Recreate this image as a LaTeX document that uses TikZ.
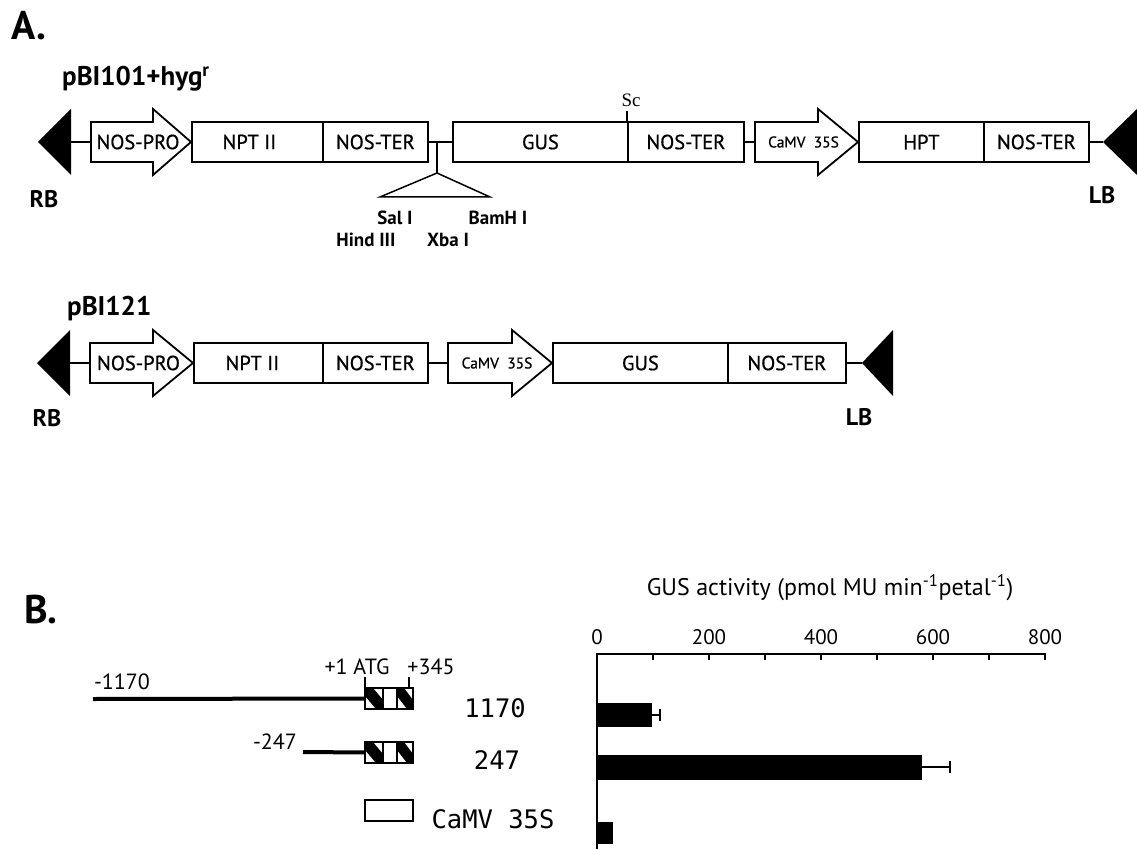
\documentclass[tikz,border=0pt]{standalone}
\usepackage{fontspec}
\setmainfont{PT Sans}
\newfontfamily\medfnt{PT Sans}[FakeBold=0.7]
\newfontfamily\monofnt{DejaVu Sans Mono}
\newfontfamily\seriffnt{Liberation Serif}
\newcommand\fs[1]{\fontsize{#1}{#1}\selectfont}
% promoter arrow: #1 name, #2 x start, #3 x head, #4 x tip, #5 centre y, #6 text, #7 font size
\newcommand\promarrow[7]{%
  \draw[shp] (#2,#5-20) -- (#3,#5-20) -- (#3,#5-33) -- (#4,#5) -- (#3,#5+33) -- (#3,#5+20) -- (#2,#5+20) -- cycle;
  \coordinate (#1w) at (#2,#5);
  \coordinate (#1e) at (#4,#5);
  \node[lbl, font=\fs{#7}\medfnt] (#1) at ({(#2+#4)/2-3},#5) {#6};}
% border triangle: #1 name, #2 tip x, #3 back x, #4 centre y
\newcommand\bordertri[4]{%
  \fill (#2,#4) -- (#3,#4-33) -- (#3,#4+33) -- cycle;
  \coordinate (#1) at (#3,#4);}
% hatched reporter cells: #1 name, #2 top y
\newcommand\hatchcells[2]{%
  \fill (365,#2) -- (373,#2) -- (383,#2+12) -- (383,#2+21) -- (376,#2+21) -- (365,#2+8) -- cycle;
  \fill (397,#2) -- (404,#2) -- (413,#2+12) -- (413,#2+21) -- (407,#2+21) -- (397,#2+8) -- cycle;
  \draw[cell] (365,#2) rectangle (413,#2+21);
  \draw[cell] (383,#2) -- (383,#2+21) (397,#2) -- (397,#2+21);
  \coordinate (#1) at (365,#2+10.5);}
\begin{document}
\begin{tikzpicture}[x=1pt,y=-1pt,line join=miter,
  gbox/.style={draw, line width=1.8pt, minimum height=40pt, inner sep=0pt, anchor=west, font=\fs{20.5}\medfnt},
  shp/.style={draw, line width=1.8pt, fill=white},
  lnk/.style={line width=1.8pt},
  thin/.style={line width=1.5pt},
  lbl/.style={inner sep=0pt, font=\fs{18}},
  site/.style={lbl, font=\fs{19}\bfseries},
  border/.style={lbl, font=\fs{24}\bfseries},
  numl/.style={lbl, font=\fs{22}},
  cell/.style={line width=2pt},
  prom/.style={line width=4pt},
  axis/.style={line width=2pt}]
\fill[white] (0,0) rectangle (1137,850);
\useasboundingbox (0,0) rectangle (1137,850);

% ---------- A ----------
\node[lbl, font=\fs{40}\bfseries] (labA) at (29,26) {A.};
\node[lbl, font=\fs{27}\bfseries, anchor=base west] (t1) at (62,86) {pBI101+hyg\textsuperscript{r}};

% row 1
\bordertri{rb1}{38}{71}{142}
\promarrow{pro1}{91}{153}{191}{142}{NOS-PRO}{20.5}
\node[gbox, minimum width=131pt] (npt1) at (191,142) {\hspace*{-16pt}NPT II};
\node[gbox, minimum width=105pt] (ter1a) at (322,142) {NOS-TER};
\node[gbox, minimum width=175pt] (gus1) at (452,142) {GUS};
\node[gbox, minimum width=116pt] (ter1b) at (627,142) {NOS-TER};
\promarrow{cam1}{755}{818}{858}{142}{CaMV\ \ 35S}{15.5}
\node[gbox, minimum width=125pt] (hpt1) at (858,142) {HPT};
\node[gbox, minimum width=105pt] (ter1c) at (983,142) {NOS-TER};
\fill (1103,142) -- (1137,109) -- (1137,175) -- cycle;
\coordinate (lb1) at (1103,142);

\draw[lnk] (rb1) -- (pro1w);
\draw[lnk] (ter1a.east) -- (gus1.west);
\draw[lnk] (ter1b.east) -- (cam1w);
\draw[lnk] (ter1c.east) -- (lb1);

% polylinker
\coordinate (mcs) at (437,142);
\coordinate (mcsapex) at (437,173);
\draw[thin] (mcs) -- (mcsapex);
\draw[thin] (mcsapex) -- (380,197) -- (490,197) -- cycle;
\node[site] (sal) at (395,218) {Sal I};
\node[site] (bam) at (498,218) {BamH I};
\node[site] (hind) at (366,240) {Hind III};
\node[site] (xba) at (448,240) {Xba I};

% Sc site
\coordinate (sctop) at (627,111);
\draw[thin] (ter1b.north west) -- (sctop);
\node[lbl, font=\fs{19}\seriffnt, anchor=south] (sc) at (631,107) {Sc};

\node[border] (rbl1) at (44,199) {RB};
\node[border] (lbl1) at (1102,195) {LB};

% row 2
\node[lbl, font=\fs{27}\bfseries, anchor=base west] (t2) at (67,315) {pBI121};
\bordertri{rb2}{37}{70}{363}
\promarrow{pro2}{90}{153}{193}{363}{NOS-PRO}{20.5}
\node[gbox, minimum width=129pt] (npt2) at (193,363) {\hspace*{-12pt}NPT II};
\node[gbox, minimum width=105pt] (ter2a) at (322,363) {NOS-TER};
\promarrow{cam2}{448}{512}{552}{363}{CaMV\ \ 35S}{15.5}
\node[gbox, minimum width=175pt] (gus2) at (552,363) {GUS};
\node[gbox, minimum width=118pt] (ter2b) at (727,363) {NOS-TER};
\fill (862,363) -- (893,330) -- (893,396) -- cycle;
\coordinate (lb2) at (862,363);
\draw[lnk] (rb2) -- (pro2w);
\draw[lnk] (ter2a.east) -- (cam2w);
\draw[lnk] (ter2b.east) -- (lb2);
\node[border] (rbl2) at (47,418) {RB};
\node[border] (lbl2) at (859,417) {LB};

% ---------- B ----------
\node[lbl, font=\fs{40}\bfseries] (labB) at (41,610) {B.};

\coordinate (p1170) at (93,699);
\hatchcells{c1170}{688}
\draw[prom] (p1170) -- (c1170);
\coordinate (atgtop) at (365,677);
\coordinate (endtop) at (409,677);
\draw[thin] (atgtop) -- (365,688);
\draw[thin] (endtop) -- (409,688);
\node[numl] (atg) at (357,667) {+1 ATG};
\node[numl] (e345) at (431,667) {+345};
\node[numl] (m1170) at (122,682) {-1170};

\coordinate (p247) at (303,752);
\hatchcells{c247}{742}
\draw[prom] (p247) -- (c247);
\node[numl] (m247) at (275,742) {-247};

\node[draw, cell, minimum width=48pt, minimum height=21pt, inner sep=0pt] (camv) at (389,810.5) {};

\node[lbl, font=\fs{25.5}\monofnt] (n1170) at (495,708) {1170};
\node[lbl, font=\fs{25.5}\monofnt] (n247) at (497,760) {247};
\node[lbl, font=\fs{25.5}\monofnt] (n35s) at (493,819) {CaMV 35S};

% chart
\node[lbl, font=\fs{24}] (ctitle) at (830,588) {GUS activity (pmol MU min\textsuperscript{-1}petal\textsuperscript{-1})};
\coordinate (o) at (597,654);
\coordinate (xend) at (1046,654);
\coordinate (yend) at (597,849);
\draw[axis] (xend) -- (o) -- (yend);
\foreach \i in {1,...,8} \draw[axis] (597+56*\i,654) -- (597+56*\i,660);
\foreach \v/\n in {0/t0,200/t200,400/t400,600/t600,800/t800}
  \node[lbl, font=\fs{21}] (\n) at (597+0.56*\v,637) {\v};

\fill (597,703) rectangle (652,727);
\draw[thin] (652,715) -- (660,715) (660,709) -- (660,721);
\fill (597,755) rectangle (922,780);
\draw[thin] (922,767) -- (950,767) (950,761) -- (950,773);
\fill (597,822) rectangle (613,844);
\end{tikzpicture}
\end{document}
